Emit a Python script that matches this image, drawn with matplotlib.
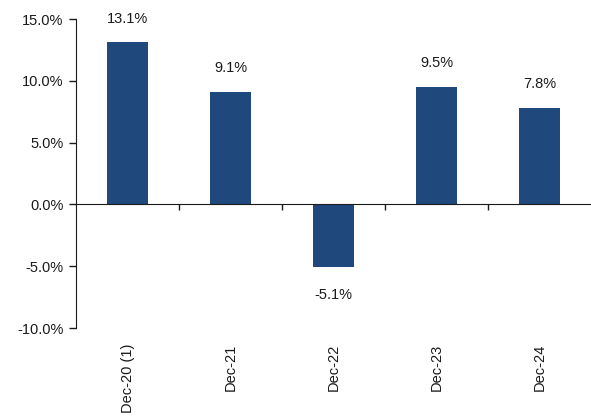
import matplotlib.pyplot as plt
from matplotlib.ticker import FuncFormatter

# Data
categories = ["Dec-20 (1)", "Dec-21", "Dec-22", "Dec-23", "Dec-24"]
values = [13.1, 9.1, -5.1, 9.5, 7.8]

BAR_COLOR = "#1F497D"
TEXT_COLOR = "#1a1a1a"

plt.rcParams["font.family"] = ["Liberation Sans", "DejaVu Sans"]
plt.rcParams["font.size"] = 10.5

fig = plt.figure(figsize=(5.91, 4.17), dpi=100)
ax = fig.add_axes([0.1286, 0.2134, 0.8714, 0.741])

x = list(range(len(categories)))
bars = ax.bar(x, values, width=0.4, color=BAR_COLOR, zorder=2)

# value labels above / below each bar
for rect, v in zip(bars, values):
    cx = rect.get_x() + rect.get_width() / 2
    offset = 17 if v >= 0 else -20
    ax.annotate(f"{v:.1f}%", (cx, v), xytext=(0, offset), textcoords="offset points",
                ha="center", va="center", color=TEXT_COLOR)

ax.set_xlim(-0.5, len(categories) - 0.5)
ax.set_ylim(-10, 15)
ax.set_yticks([-10, -5, 0, 5, 10, 15])
ax.yaxis.set_major_formatter(FuncFormatter(lambda v, p: f"{v:.1f}%"))
ax.tick_params(axis="y", direction="out", length=5, width=1, pad=4, colors=TEXT_COLOR)

# zero line acting as the category axis
for s in ["top", "right"]:
    ax.spines[s].set_visible(False)
ax.spines["bottom"].set_position(("data", 0))
ax.spines["left"].set_color(TEXT_COLOR)
ax.spines["bottom"].set_color(TEXT_COLOR)
ax.set_xticks([i + 0.5 for i in range(len(categories) - 1)])
ax.set_xticklabels([])
ax.tick_params(axis="x", direction="out", length=4, width=1, colors=TEXT_COLOR)

# category labels along the bottom
sec = ax.secondary_xaxis(0.0)
sec.set_xticks(x)
sec.set_xticklabels(categories, rotation=90, color=TEXT_COLOR)
sec.tick_params(length=0, pad=11)
sec.spines["bottom"].set_visible(False)

fig.savefig("out.png", dpi=100)
